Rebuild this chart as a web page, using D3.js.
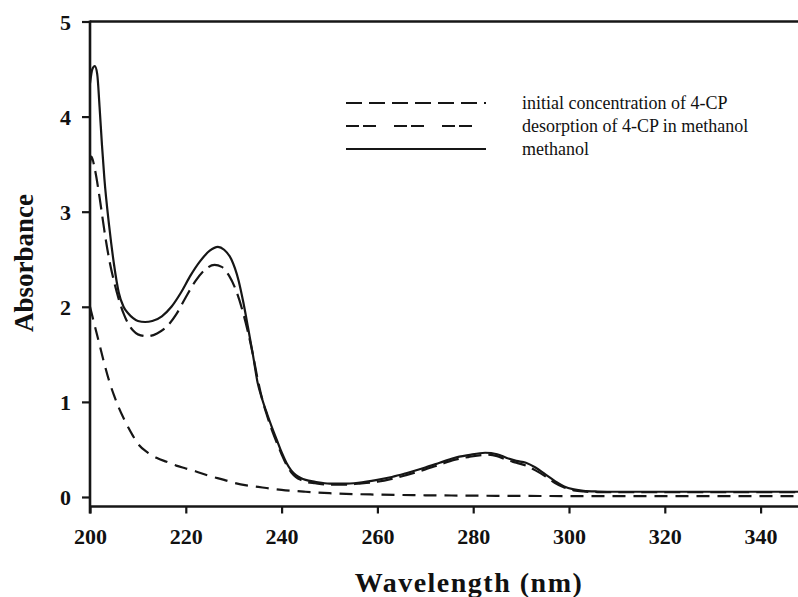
<!DOCTYPE html>
<html>
<head>
<meta charset="utf-8">
<script src="https://cdn.jsdelivr.net/npm/d3@7/dist/d3.min.js"></script>
<style>
  html, body { margin: 0; padding: 0; background: #fff; }
  svg { display: block; }
  text { font-family: "Liberation Serif", "Times New Roman", serif; fill: #111; }
</style>
</head>
<body>
<svg id="chart" width="798" height="597"></svg>
<script>
// ---- data ----
const xTicks = [200, 220, 240, 260, 280, 300, 320, 340];
const yTicks = [0, 1, 2, 3, 4, 5];
const seriesNames = ["initial concentration of 4-CP", "desorption of 4-CP in methanol", "methanol"];

// upper dashed curve (long dashes)
const initialWl = [200, 200.3, 201, 202, 203, 204, 205, 206, 207, 208, 209, 210, 212, 214, 216, 218, 220, 222, 224, 226, 227.5, 229, 230.5, 232, 233, 234, 235, 236, 237, 238, 239, 240, 241, 242, 243, 244, 245, 247, 250, 253, 256, 260, 263, 266, 270, 273, 276, 279, 283, 285, 287, 289, 291, 293, 295, 297, 299, 301, 303, 306, 310, 330, 350];
const initialAbs = [3.5, 3.58, 3.45, 3.15, 2.8, 2.5, 2.27, 2.08, 1.93, 1.82, 1.75, 1.71, 1.69, 1.72, 1.79, 1.92, 2.1, 2.27, 2.39, 2.44, 2.42, 2.33, 2.17, 1.93, 1.73, 1.5, 1.24, 1.02, 0.85, 0.7, 0.57, 0.45, 0.34, 0.26, 0.21, 0.18, 0.16, 0.145, 0.13, 0.13, 0.14, 0.16, 0.19, 0.23, 0.29, 0.34, 0.39, 0.42, 0.445, 0.43, 0.39, 0.36, 0.33, 0.28, 0.22, 0.15, 0.1, 0.07, 0.058, 0.052, 0.05, 0.05, 0.05];

// lower decaying curve (short dashes)
const desorpWl = [200, 201, 202, 203, 204, 205, 206, 207, 208, 209, 210, 212, 214, 216, 218, 220, 222, 225, 228, 230, 233, 236, 240, 245, 250, 260, 270, 280, 300, 320, 350];
const desorpAbs = [2.0, 1.8, 1.6, 1.4, 1.22, 1.07, 0.94, 0.83, 0.73, 0.64, 0.56, 0.47, 0.41, 0.37, 0.33, 0.30, 0.27, 0.22, 0.18, 0.15, 0.12, 0.10, 0.075, 0.055, 0.04, 0.025, 0.018, 0.014, 0.01, 0.01, 0.01];

// solid curve
const methWl = [200, 200.5, 201, 201.5, 202, 202.5, 203, 204, 205, 206, 207, 208, 209, 210, 211.5, 213, 215, 217, 219, 221, 223, 225, 226.7, 228, 229.5, 231, 232, 233, 234, 235, 236, 237, 238, 239, 240, 241, 242, 243, 244, 245, 247, 250, 253, 256, 260, 263, 266, 270, 273, 276, 279, 282.5, 285, 287, 289, 291, 293, 295, 297, 299, 301, 303, 306, 310, 330, 350];
const methAbs = [4.35, 4.5, 4.53, 4.45, 4.1, 3.7, 3.35, 2.85, 2.45, 2.15, 2.0, 1.93, 1.88, 1.85, 1.84, 1.85, 1.9, 2.0, 2.15, 2.33, 2.48, 2.59, 2.63, 2.6, 2.5, 2.28, 2.05, 1.78, 1.5, 1.2, 1.02, 0.87, 0.73, 0.6, 0.47, 0.36, 0.28, 0.23, 0.2, 0.18, 0.16, 0.14, 0.14, 0.15, 0.18, 0.21, 0.25, 0.31, 0.36, 0.41, 0.44, 0.465, 0.45, 0.41, 0.38, 0.36, 0.31, 0.24, 0.17, 0.11, 0.08, 0.065, 0.058, 0.055, 0.055, 0.055];

// ---- layout ----
const svg = d3.select("#chart");
const mLeft = 90, mTop = 21.5, mBottom = 506.5, mRight = 798;
const x = d3.scaleLinear().domain([200, 350]).range([mLeft, mLeft + 150 * 4.79]);
const y = d3.scaleLinear().domain([-0.1, 5]).range([mBottom, mTop]);

svg.append("defs").append("clipPath").attr("id", "plot")
  .append("rect").attr("x", mLeft).attr("y", mTop - 5).attr("width", mRight - mLeft).attr("height", mBottom - mTop + 5);

const ink = "#161616";

// curves
const line = d3.line().x(d => x(d[0])).y(d => y(d[1])).curve(d3.curveMonotoneX);
const g = svg.append("g").attr("clip-path", "url(#plot)");
const series = [
  { wl: initialWl, ab: initialAbs, dash: "16,7" },
  { wl: desorpWl, ab: desorpAbs, dash: "13,8" },
  { wl: methWl, ab: methAbs, dash: null }
];
series.forEach(s => {
  g.append("path")
    .datum(d3.zip(s.wl, s.ab))
    .attr("d", line)
    .attr("fill", "none")
    .attr("stroke", ink)
    .attr("stroke-width", 2.2)
    .attr("stroke-dasharray", s.dash);
});

// axes
const xAxis = svg.append("g").attr("transform", `translate(0,${mBottom})`)
  .call(d3.axisBottom(x).tickValues(xTicks).tickSize(7).tickPadding(15).tickFormat(d3.format("d")));
const yAxis = svg.append("g").attr("transform", `translate(${mLeft},0)`)
  .call(d3.axisLeft(y).tickValues(yTicks).tickSize(8).tickPadding(11).tickFormat(d3.format("d")));
[xAxis, yAxis].forEach(a => {
  a.select(".domain").remove();
  a.selectAll("line").attr("stroke", ink).attr("stroke-width", 2.2);
  a.selectAll("text").attr("font-size", 22).attr("font-weight", "bold")
    .attr("font-family", "'Liberation Serif', serif").attr("fill", ink);
});
yAxis.selectAll("text").attr("dy", "0.36em");

// frame lines
svg.append("line").attr("x1", mLeft).attr("x2", mRight).attr("y1", mBottom).attr("y2", mBottom)
  .attr("stroke", ink).attr("stroke-width", 2.6);
svg.append("line").attr("x1", mLeft).attr("x2", mRight).attr("y1", mTop).attr("y2", mTop)
  .attr("stroke", ink).attr("stroke-width", 2.6);
svg.append("line").attr("x1", mLeft).attr("x2", mLeft).attr("y1", mTop - 1).attr("y2", mBottom + 7)
  .attr("stroke", ink).attr("stroke-width", 2.6);

// axis titles
svg.append("text").attr("x", 469).attr("y", 592).attr("text-anchor", "middle")
  .attr("font-size", 28).attr("font-weight", "bold").attr("letter-spacing", 1.5).text("Wavelength (nm)");
svg.append("text").attr("transform", "translate(33,263) rotate(-90)").attr("text-anchor", "middle")
  .attr("font-size", 27).attr("font-weight", "bold").text("Absorbance");

// legend
const legendY = [103, 126, 149];
const legendDash = ["16,7", "13,4,13,18", null];
seriesNames.forEach((name, i) => {
  svg.append("line").attr("x1", 346).attr("x2", 486).attr("y1", legendY[i]).attr("y2", legendY[i])
    .attr("stroke", ink).attr("stroke-width", 2.2).attr("stroke-dasharray", legendDash[i]);
  svg.append("text").attr("x", 522).attr("y", legendY[i]).attr("dy", "0.35em")
    .attr("font-size", 18).text(name);
});
</script>
</body>
</html>
